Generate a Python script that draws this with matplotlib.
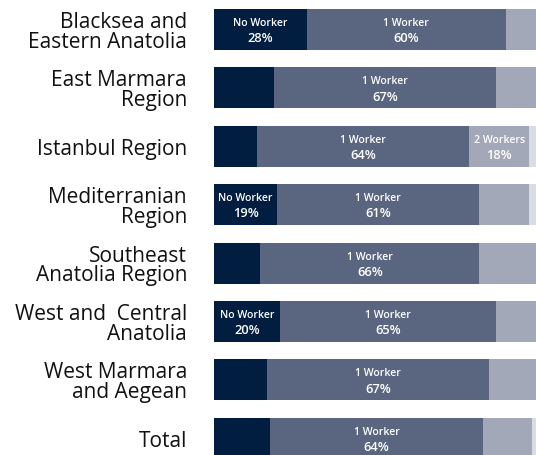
import matplotlib.pyplot as plt
import numpy as np

# ---------------- Data ----------------
regions = [
    "Blacksea and\nEastern Anatolia",
    "East Marmara\nRegion",
    "Istanbul Region",
    "Mediterranian\nRegion",
    "Southeast\nAnatolia Region",
    "West and  Central\nAnatolia",
    "West Marmara\nand Aegean",
    "Total",
]
no_worker = [28, 18, 13, 19, 14, 20, 16, 17]
one_worker = [60, 67, 64, 61, 66, 65, 67, 64]
two_workers = [11, 13, 18, 15, 18, 12, 15, 15]
three_plus = [1, 2, 5, 5, 2, 3, 2, 4]

series_names = ["No Worker", "1 Worker", "2 Workers", "3+ Workers"]
series_colors = ["#011e41", "#5a6680", "#a3a8b8", "#d9dce3"]

# which segments get a label (region index lists per series)
labelled = {
    0: [0, 3, 5],
    1: [0, 1, 2, 3, 4, 5, 6, 7],
    2: [2],
}

plt.rcParams["font.family"] = ["Open Sans", "DejaVu Sans"]

fig = plt.figure(figsize=(5.36, 4.56), dpi=100)
ax = fig.add_axes([214 / 536, 0, 1 - 214 / 536, 1])

y = np.arange(len(regions))
series = [no_worker, one_worker, two_workers, three_plus]
left = np.zeros(len(regions))
for s, (vals, col) in enumerate(zip(series, series_colors)):
    vals = np.array(vals, dtype=float)
    ax.barh(y, vals, left=left, height=0.70, color=col, edgecolor="none")
    for i in labelled.get(s, []):
        cx = left[i] + vals[i] / 2
        ax.text(cx, y[i] - 0.12, series_names[s], ha="center", va="center",
                color="white", fontsize=7.6, fontweight="semibold")
        ax.text(cx, y[i] + 0.14, f"{vals[i]:.0f}%", ha="center", va="center",
                color="white", fontsize=9.3, fontweight="semibold")
    left += vals

ax.set_xlim(0, 97.1)
ax.set_ylim(7.286, -0.522)
ax.set_yticks(y)
ax.set_yticklabels(regions, fontsize=15, color="#111111", linespacing=0.92)
ax.tick_params(axis="y", length=0, pad=19.4)
ax.set_xticks([])
for sp in ax.spines.values():
    sp.set_visible(False)

fig.savefig("out.png", dpi=100)
